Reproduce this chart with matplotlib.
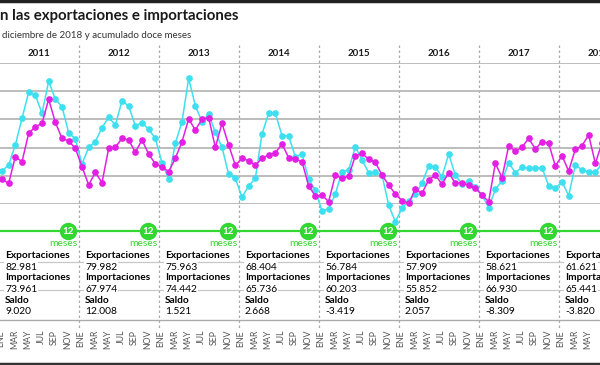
import numpy as np
import matplotlib.pyplot as plt

plt.rcParams['font.family'] = ['Lato', 'DejaVu Sans']

# Data (monthly values, millions)
years = ['2011', '2012', '2013', '2014', '2015', '2016', '2017', '2018']
month_names = ['ENE', 'FEB', 'MAR', 'ABR', 'MAY', 'JUN', 'JUL', 'AGO', 'SEP', 'OCT', 'NOV', 'DIC']

exportaciones = [
    5175, 5387, 6093, 7036, 7954, 7858, 7212, 8352, 7707, 7445, 6527, 6305,
    5423, 6012, 6210, 6704, 7071, 6799, 7657, 7470, 6775, 6880, 6648, 6330,
    5458, 4893, 6153, 6916, 8448, 7481, 6916, 7188, 6542, 6012, 5059, 4918,
    4247, 4646, 4918, 6482, 7212, 7212, 6422, 6411, 5680, 5776, 4883, 4505,
    3763, 3834, 4364, 5151, 5211, 6033, 5564, 5115, 5130, 5034, 3975, 3386,
    3859, 4116, 4364, 4741, 5363, 5306, 4974, 5776, 5034, 4706, 4822, 4621,
    4328, 3880, 4530, 4822, 5468, 5115, 5306, 5271, 5271, 5292, 4657, 4565,
    4798, 4304, 5387, 5211, 5151, 5130, 5423,
]
importaciones = [
    4883, 4741, 5680, 5504, 6506, 6739, 6859, 7707, 6895, 6330, 6234, 5977,
    5327, 4681, 5130, 4762, 5977, 6012, 6330, 6270, 5836, 6270, 5776, 5423,
    5327, 5151, 5624, 6210, 7011, 6623, 7001, 7057, 6012, 6859, 6093, 5377,
    5624, 5539, 5377, 5624, 5740, 5821, 6129, 5645, 5599, 5504, 4646, 4293,
    4328, 4092, 5034, 4918, 4999, 5705, 5800, 5589, 5483, 5034, 4681, 4364,
    4127, 4035, 4530, 4388, 4858, 5034, 4706, 5115, 4741, 4762, 4681, 4565,
    4328, 4092, 5447, 4939, 6058, 5881, 6012, 6330, 5952, 6210, 6153, 5352,
    5716, 5175, 5942, 6069, 6446, 5447, 6164,
]

# twelve month totals per year
tot_export = ['82.981', '79.982', '75.963', '68.404', '56.784', '57.909', '58.621', '61.621']
tot_import = ['73.961', '67.974', '74.442', '65.736', '60.203', '55.852', '66.930', '65.441']
saldo = ['9.020', '12.008', '1.521', '2.668', '-3.419', '2.057', '-8.309', '-3.820']

cyan = '#3ee0f0'
magenta = '#e41fe4'
green = '#33d633'
gray_txt = '#555555'

W, H = 600, 365
fig = plt.figure(figsize=(6, 3.65), dpi=100)

x = np.arange(len(exportaciones))
xlim = (-0.3, 89.7)

# main plot area (gridlines between 62.7 px and 204.3 px)
ax = fig.add_axes([0, (H - 204.3) / H, 1, (204.3 - 62.7) / H])
ax.set_xlim(xlim)
ax.set_ylim(4000, 9000)
ax.set_yticks(np.arange(4000, 9001, 1000))
ax.set_xticks([])
ax.tick_params(left=False, labelleft=False)
ax.grid(axis='y', color='#b8b8b8', lw=1.3)
for s in ax.spines.values():
    s.set_visible(False)
ax.set_facecolor('none')

ax.plot(x, exportaciones, color=cyan, lw=1.1, marker='o', ms=3.8, clip_on=False, zorder=3)
ax.plot(x[:len(importaciones)], importaciones, color=magenta, lw=1.1, marker='o', ms=3.8,
        clip_on=False, zorder=4)

# overlay for annotations: month units horizontally, pixels vertically
ov = fig.add_axes([0, 0, 1, 1], zorder=-1)
ov.set_xlim(xlim)
ov.set_ylim(H, 0)
ov.axis('off')

# title / subtitle (left part cut off in the original)
ov.text(-0.3, 16, 'n las exportaciones e importaciones', fontsize=10.8, fontweight='bold',
        color='#1a1a1a', va='center', ha='left')
ov.text(0.0, 35, 'diciembre de 2018 y acumulado doce meses', fontsize=7, color='#333333',
        va='center', ha='left')

ov.axhline(1, color='#222222', lw=2.5)
ov.axhline(364, color='#333333', lw=2.5)
ov.axhline(231, color=green, lw=1.6)
ov.axhline(320, color='#aaaaaa', lw=1.0)
ov.axhline(262, color='#c8c8c8', lw=0.9)
ov.axhline(290, color='#c8c8c8', lw=0.9)

bb = dict(boxstyle='square,pad=0.1', fc='white', ec='none')
for i, yr in enumerate(years):
    x0 = 12 * i
    ov.text(x0 + 5.5, 53, yr, fontsize=7, fontweight='bold', ha='center', va='center', color='#1a1a1a')
    # year separators
    ov.plot([x0 + 11.5, x0 + 11.5], [45, 330], color='#aaaaaa', lw=0.9, ls=(0, (2, 2)), zorder=1)
    # "12 meses" badge, only for complete years inside the frame
    if x0 + 11.5 < xlim[1]:
        ov.plot(x0 + 9.9, 231, 'o', ms=11.5, color=green, mec=green, zorder=5)
        ov.text(x0 + 9.9, 231.5, '12', fontsize=7, fontweight='bold', color='white',
                ha='center', va='center', zorder=6)
        ov.text(x0 + 11.3, 243.5, 'meses', fontsize=7.4, color=green, ha='right', va='center')
    # totals
    tx = x0 + 0.45
    ov.text(tx, 255, 'Exportaciones', fontsize=7.3, fontweight='bold', ha='left', va='center', bbox=bb)
    ov.text(tx, 267, tot_export[i], fontsize=7.4, ha='left', va='center', bbox=bb)
    ov.text(tx, 278, 'Importaciones', fontsize=7.3, fontweight='bold', ha='left', va='center', bbox=bb)
    ov.text(tx, 289.5, tot_import[i], fontsize=7.4, ha='left', va='center', bbox=bb)
    ov.text(tx, 300.5, 'Saldo', fontsize=7.3, fontweight='bold', ha='left', va='center', bbox=bb)
    ov.text(tx, 312, saldo[i], fontsize=7.4, ha='left', va='center', bbox=bb)

# month labels (every other month)
for m in range(0, 90, 2):
    ov.text(m - 0.15, 330, month_names[m % 12], rotation=90, fontsize=6.3, color=gray_txt,
            ha='center', va='top')

fig.savefig('out.png', dpi=100)
